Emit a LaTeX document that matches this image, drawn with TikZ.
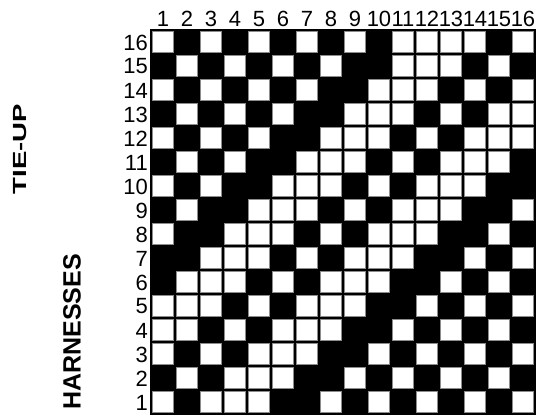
\documentclass[tikz,border=0pt]{standalone}
\usepackage{fontspec}
\setmainfont{Liberation Sans}
\begin{document}
\begin{tikzpicture}[x=1pt,y=-1pt,
  numlabel/.style={inner sep=0pt,font=\fontsize{22}{22}\selectfont},
  sidelabel/.style={inner sep=0pt,rotate=90,font=\bfseries},
  whitecell/.style={fill=white,draw=black!45,line width=0.8pt}]
\useasboundingbox (0,0) rectangle (539,416);
% grid background
\fill[black] (151,30) rectangle (535,414);
\foreach \r/\pat in {
 16/{1,0,1,0,1,0,1,0,1,0,1,1,1,1,0,1},
 15/{0,1,0,1,0,1,0,1,0,0,1,1,1,0,1,0},
 14/{1,0,1,0,1,0,1,0,0,1,1,1,0,1,0,1},
 13/{0,1,0,1,0,1,0,0,1,1,1,0,1,0,1,1},
 12/{1,0,1,0,1,0,0,1,1,1,0,1,0,1,1,1},
 11/{0,1,0,1,0,0,1,1,1,0,1,0,1,1,1,0},
 10/{1,0,1,0,0,1,1,1,0,1,0,1,1,1,0,0},
 9/{0,1,0,0,1,1,1,0,1,0,1,1,1,0,0,1},
 8/{1,0,0,1,1,1,0,1,0,1,1,1,0,0,1,0},
 7/{0,0,1,1,1,0,1,0,1,1,1,0,0,1,0,1},
 6/{0,1,1,1,0,1,0,1,1,1,0,0,1,0,1,0},
 5/{1,1,1,0,1,0,1,1,1,0,0,1,0,1,0,1},
 4/{1,1,0,1,0,1,1,1,0,0,1,0,1,0,1,0},
 3/{1,0,1,0,1,1,1,0,0,1,0,1,0,1,0,1},
 2/{0,1,0,1,1,1,0,0,1,0,1,0,1,0,1,0},
 1/{1,0,1,1,1,0,0,1,0,1,0,1,0,1,0,1}}{
  \pgfmathsetmacro{\yo}{30+(16-\r)*24}
  \node[numlabel,anchor=east] (row\r) at (148,\yo+12.5) {\r};
  \foreach \v [count=\c] in \pat {
    \pgfmathsetmacro{\xo}{151+(\c-1)*24}
    \ifnum\v=1
      \draw[whitecell] (\xo+1.5,\yo+1.5) rectangle (\xo+22.5,\yo+22.5);
    \fi
  }
}
\draw[black,line width=1.2pt] (150.4,29.4) rectangle (535.8,414.6);
% column numbers
\foreach \c in {1,...,16}{
  \node[numlabel] (col\c) at (151+\c*24-12,19) {\c};
}
% side labels
\node[sidelabel] (tieup) at (20,149) {\scalebox{1.45}[1]{\fontsize{19}{19}\selectfont TIE-UP}};
\node[sidelabel] (harn) at (72,332) {\fontsize{25}{25}\selectfont HARNESSES};
\end{tikzpicture}
\end{document}
